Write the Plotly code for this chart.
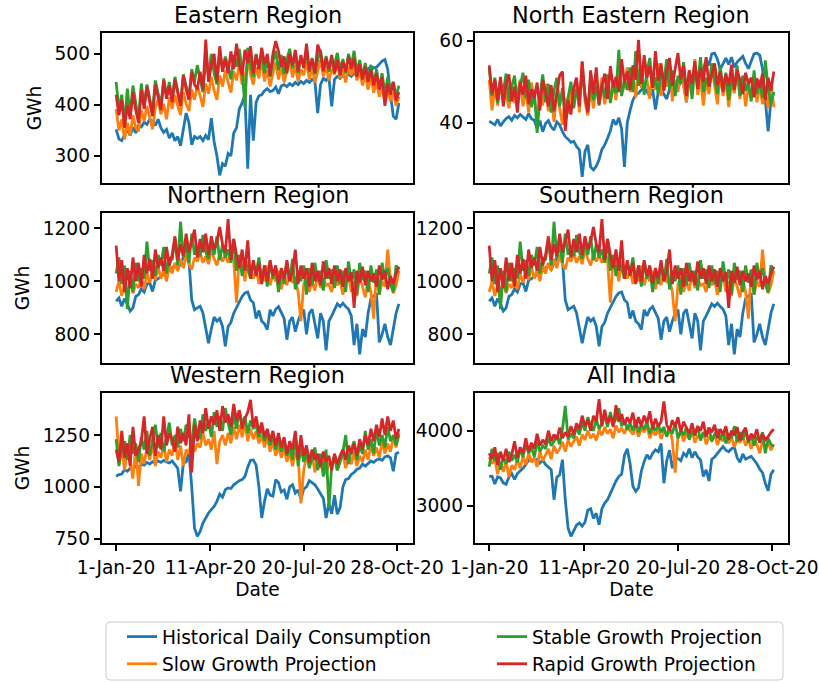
import plotly.graph_objects as go
import pandas as pd

start_date = "2020-01-01"
step_days = 3
series_names = ["Historical Daily Consumption", "Slow Growth Projection",
                "Stable Growth Projection", "Rapid Growth Projection"]
colors = ["#1f77b4", "#ff7f0e", "#2ca02c", "#d62728"]
legend_ids = ["legend", "legend", "legend2", "legend2"]
x_tick_dates = ["2020-01-01", "2020-04-11", "2020-07-20", "2020-10-28"]
x_tick_text = ["1-Jan-20", "11-Apr-20", "20-Jul-20", "28-Oct-20"]

# ---------------- Eastern Region ----------------
east_hist = [
    352, 333, 330, 340, 352, 340, 356, 345, 360, 357,
    366, 362, 372, 368, 360, 372, 355, 346, 352, 335,
    345, 330, 338, 320, 350, 384, 365, 322, 338, 334,
    338, 330, 340, 332, 374, 328, 300, 262, 285, 280,
    305, 300, 345, 355, 392, 404, 420, 275, 420, 330,
    405, 418, 420, 428, 432, 426, 428, 435, 422, 437,
    440, 436, 442, 438, 444, 440, 446, 442, 448, 444,
    450, 446, 384, 440, 452, 448, 455, 397, 450, 456,
    452, 458, 455, 460, 456, 462, 458, 460, 465, 462,
    470, 476, 472, 474, 480, 486, 489, 470, 420, 378,
    372, 404]
east_slow = [
    392, 350, 372, 332, 365, 340, 380, 355, 348, 390,
    368, 398, 375, 352, 395, 410, 382, 402, 372, 415,
    392, 420, 398, 380, 425, 402, 388, 430, 410, 438,
    418, 396, 442, 422, 455, 428, 410, 458, 436, 468,
    444, 424, 466, 448, 480, 440, 455, 486, 460, 440,
    474, 452, 490, 446, 468, 436, 462, 484, 450, 476,
    444, 468, 490, 454, 478, 446, 470, 458, 486, 450,
    472, 444, 466, 488, 456, 476, 448, 470, 460, 484,
    452, 468, 444, 476, 458, 480, 448, 466, 438, 460,
    430, 454, 424, 446, 416, 438, 404, 430, 408, 424,
    398, 416]
east_stable = [
    445, 390, 420, 362, 432, 378, 438, 400, 370, 442,
    398, 440, 412, 385, 448, 425, 398, 452, 418, 445,
    410, 455, 428, 400, 460, 438, 415, 470, 445, 478,
    450, 425, 488, 458, 500, 462, 440, 505, 470, 495,
    472, 450, 498, 475, 510, 468, 395, 512, 478, 455,
    500, 470, 508, 462, 490, 455, 485, 506, 468, 498,
    460, 490, 510, 472, 500, 462, 494, 478, 505, 465,
    492, 460, 488, 508, 470, 496, 465, 490, 478, 502,
    468, 490, 462, 500, 476, 506, 462, 488, 455, 482,
    450, 478, 440, 470, 432, 462, 420, 455, 428, 445,
    415, 438]
east_rapid = [
    420, 380, 410, 355, 400, 372, 425, 390, 365, 430,
    392, 436, 405, 378, 440, 418, 390, 448, 412, 438,
    405, 450, 420, 398, 458, 430, 410, 465, 440, 430,
    465, 430, 528, 445, 478, 500, 445, 515, 465, 490,
    462, 505, 470, 520, 478, 458, 508, 482, 515, 462,
    498, 470, 512, 480, 500, 458, 500, 525, 505, 475,
    495, 462, 500, 478, 508, 466, 498, 472, 520, 468,
    490, 462, 518, 502, 466, 492, 470, 498, 462, 488,
    458, 485, 466, 495, 470, 492, 455, 480, 450, 475,
    445, 470, 438, 462, 430, 455, 398, 442, 420, 445,
    408, 425]

# ---------------- North Eastern Region ----------------
ne_hist = [
    40.4, 40.0, 39.5, 40.8, 39.2, 40.2, 41.0, 41.5, 40.6, 41.8,
    41.2, 42.0, 41.4, 40.8, 42.2, 41.0, 40.6, 38.6, 40.5, 37.8,
    39.8, 40.5, 39.0, 38.2, 40.2, 39.5, 37.8, 36.6, 36.0, 35.2,
    35.5, 34.2, 33.4, 26.8, 33.0, 34.6, 29.2, 28.5, 29.4, 31.0,
    33.5, 34.6, 36.2, 38.0, 40.8, 39.5, 41.2, 38.5, 29.2, 40.0,
    43.0, 45.5, 46.8, 47.2, 48.0, 48.4, 47.6, 46.5, 48.2, 43.2,
    47.5, 48.0, 47.0, 45.8, 48.2, 47.5, 49.0, 48.5, 50.0, 49.5,
    45.0, 50.5, 51.2, 50.8, 52.0, 51.5, 53.0, 55.4, 54.0, 56.8,
    57.0, 55.5, 53.0, 54.5, 55.8, 54.2, 56.0, 53.5, 54.8, 55.5,
    56.2, 54.5, 53.2, 55.0, 56.8, 57.0, 56.5, 53.2, 44.8, 37.9,
    45.6, 47.3]
ne_slow = [
    50.5, 43.0, 48.5, 44.2, 50.2, 45.0, 47.5, 43.5, 49.0, 44.8,
    47.2, 50.5, 44.0, 48.2, 42.5, 49.8, 45.5, 41.8, 47.0, 44.2,
    49.5, 42.8, 46.5, 40.2, 47.8, 43.5, 39.5, 46.0, 42.2, 48.5,
    44.0, 50.5, 42.5, 54.8, 45.2, 41.8, 48.0, 43.5, 49.2, 45.8,
    51.0, 44.5, 48.8, 46.0, 50.2, 45.5, 52.0, 47.2, 49.0, 53.5,
    47.5, 51.8, 46.2, 53.0, 48.5, 55.2, 49.8, 45.8, 52.5, 48.0,
    54.5, 46.5, 51.5, 48.8, 55.0, 45.2, 50.5, 47.5, 53.2, 49.0,
    45.0, 52.8, 48.2, 55.5, 46.8, 51.0, 44.2, 50.2, 47.0, 53.8,
    48.5, 44.5, 52.0, 46.5, 50.8, 43.8, 49.5, 47.2, 53.0, 45.8,
    50.2, 44.0, 48.8, 46.2, 51.5, 45.0, 49.0, 44.5, 47.8, 43.5,
    50.0, 43.8]
ne_stable = [
    53.5, 46.5, 51.0, 44.8, 49.5, 47.5, 52.0, 45.2, 48.8, 51.5,
    44.5, 49.0, 52.2, 46.0, 50.5, 43.8, 48.0, 37.5, 46.5, 51.8,
    45.0, 49.5, 42.5, 47.8, 51.0, 44.0, 48.5, 41.5, 46.2, 50.0,
    43.5, 48.2, 45.0, 52.5, 47.0, 43.0, 50.2, 45.5, 48.8, 44.2,
    49.5, 46.0, 51.8, 44.8, 49.0, 47.2, 57.8, 46.5, 50.5, 48.0,
    53.5, 47.5, 57.5, 49.0, 54.0, 46.8, 52.5, 55.8, 48.5, 51.0,
    47.0, 53.2, 50.0, 55.5, 48.2, 52.8, 46.5, 51.5, 49.5, 54.8,
    48.0, 52.0, 45.8, 53.5, 49.2, 56.0, 47.5, 51.0, 48.8, 54.5,
    50.5, 47.0, 53.8, 48.5, 52.2, 45.5, 51.8, 48.0, 54.0, 46.5,
    51.5, 47.8, 50.0, 45.2, 52.8, 47.0, 50.5, 46.0, 55.2, 48.5,
    44.5, 47.5]
ne_rapid = [
    54.0, 47.0, 50.5, 45.5, 51.2, 44.0, 49.5, 51.8, 45.2, 48.8,
    42.5, 50.0, 46.8, 51.5, 44.5, 48.2, 46.0, 49.8, 43.0, 50.5,
    47.5, 44.0, 49.2, 42.8, 47.0, 51.5, 52.5, 38.0, 45.5, 42.0,
    48.5, 51.0, 44.0, 55.0, 46.5, 42.5, 52.8, 47.0, 53.5, 44.5,
    49.0, 52.0, 45.8, 53.8, 48.5, 51.2, 47.5, 55.5, 49.8, 52.5,
    48.0, 54.0, 50.5, 60.2, 49.5, 56.5, 51.0, 53.8, 48.5, 57.5,
    50.2, 54.5, 47.8, 52.5, 55.8, 49.0, 53.2, 57.0, 50.5, 54.0,
    46.5, 52.8, 49.5, 55.0, 48.2, 53.5, 50.0, 56.0, 48.8, 52.0,
    54.5, 49.2, 52.5, 47.5, 51.8, 49.0, 54.2, 48.0, 52.8, 50.5,
    47.0, 52.2, 49.5, 51.0, 46.2, 50.8, 48.5, 52.0, 45.5, 51.0,
    47.8, 52.5]

# ---------------- Northern Region ----------------
north_hist = [
    925, 937, 906, 935, 915, 888, 900, 943, 950, 972,
    960, 990, 995, 962, 1005, 1010, 1020, 1025, 1035, 1040,
    1050, 1060, 1045, 1070, 1090, 1157, 1080, 930, 893, 900,
    906, 881, 830, 767, 820, 865, 850, 860, 830, 755,
    830, 845, 880, 900, 920, 943, 956, 960, 930, 920,
    860, 890, 850, 840, 818, 893, 870, 895, 905, 880,
    860, 780, 850, 865, 810, 850, 880, 893, 800, 880,
    895, 840, 785, 880, 850, 740, 850, 870, 890, 915,
    905, 918, 905, 895, 870, 760, 840, 725, 820, 790,
    880, 935, 945, 955, 770, 800, 840, 790, 760, 815,
    880, 915]
north_slow = [
    960, 1000, 945, 985, 930, 1010, 955, 990, 975, 1015,
    970, 1030, 995, 1040, 1005, 1055, 1010, 1045, 1000, 1060,
    1030, 1070, 1040, 1085, 1050, 1100, 1065, 1045, 1090, 1075,
    1110, 1070, 1095, 1065, 1120, 1085, 1060, 1105, 1075, 1100,
    1070, 1110, 1080, 920, 1095, 1060, 1000, 1075, 1040, 1010,
    1050, 990, 1035, 1000, 1060, 985, 1025, 1000, 1040, 970,
    1020, 985, 1045, 995, 1010, 960, 850, 990, 1015, 960,
    1000, 965, 1030, 975, 1010, 985, 990, 960, 1020, 985,
    1005, 950, 995, 1025, 960, 1000, 945, 1015, 980, 940,
    1010, 960, 860, 1040, 950, 1000, 980, 1120, 1000, 955,
    985, 1040]
north_stable = [
    1030, 1090, 990, 1060, 895, 1040, 960, 1070, 1000, 1050,
    1010, 1150, 1040, 1080, 1020, 1100, 1060, 1130, 1030, 1090,
    1080, 1160, 1060, 1225, 1090, 1140, 1070, 1180, 1100, 1130,
    1095, 1175, 1110, 1085, 1150, 1100, 1170, 1080, 1140, 1090,
    1120, 1070, 1160, 1040, 1100, 1020, 1080, 1050, 1010, 1070,
    1030, 1090, 1000, 1060, 980, 1075, 1010, 1050, 960, 1040,
    990, 1070, 1000, 1085, 970, 1040, 1000, 1060, 950, 1050,
    985, 1070, 1000, 1040, 965, 1080, 1010, 1045, 975, 1060,
    990, 1040, 960, 1075, 1000, 1045, 950, 1070, 1005, 1040,
    960, 1060, 995, 1045, 950, 1070, 1010, 1050, 990, 960,
    1060, 1045]
north_rapid = [
    1135, 1000, 1080, 960, 1050, 975, 1090, 1000, 1070, 980,
    1100, 1030, 1085, 1010, 1120, 1050, 1090, 1040, 1130, 1060,
    1100, 1170, 1080, 1140, 1095, 1180, 1110, 1150, 1195, 1090,
    1160, 1110, 1180, 1100, 1170, 1120, 1150, 1205, 1140, 1110,
    1235, 1080, 1160, 1100, 1050, 1120, 1040, 1155, 1010, 1080,
    1020, 1070, 990, 1060, 1000, 1080, 1020, 1060, 990, 1050,
    1010, 1080, 1000, 1040, 1120, 990, 1060, 1010, 1050, 980,
    1070, 1000, 1040, 985, 1075, 1010, 1050, 990, 1060, 1000,
    1045, 980, 1050, 1000, 1035, 900, 1040, 995, 1055, 985,
    1040, 1000, 1030, 980, 1060, 1005, 1040, 970, 1020, 990,
    1030, 1055]

# ---------------- Southern Region (identical to Northern in the source) ----------------
south_hist = north_hist
south_slow = north_slow
south_stable = north_stable
south_rapid = north_rapid

# ---------------- Western Region ----------------
west_hist = [
    1051, 1059, 1062, 1083, 1075, 1090, 1085, 1100, 1095, 1110,
    1105, 1118, 1110, 1122, 1115, 1125, 1118, 1128, 1120, 1115,
    1125, 1110, 1090, 978, 1115, 1120, 1165, 1000, 800, 761,
    785, 825, 850, 874, 890, 906, 930, 965, 950, 986,
    995, 992, 1010, 1020, 1030, 1035, 1050, 1095, 1128, 1130,
    1105, 1000, 850, 930, 990, 960, 955, 1035, 1020, 975,
    985, 940, 1000, 1010, 970, 985, 940, 990, 1000, 1030,
    1020, 1010, 990, 965, 945, 850, 920, 870, 960, 868,
    900, 1000, 1035, 1040, 1060, 1070, 1085, 1090, 1110, 1100,
    1115, 1125, 1118, 1130, 1135, 1128, 1145, 1150, 1140, 1075,
    1160, 1167]
west_slow = [
    1340, 1150, 1200, 1080, 1180, 1120, 1040, 1200, 1005, 1160,
    1110, 1190, 1130, 1220, 1100, 1170, 1140, 1210, 1120, 1180,
    1150, 1230, 1130, 1200, 1100, 1180, 1160, 1240, 1170, 1210,
    1190, 1260, 1200, 1230, 1180, 1270, 1110, 1220, 1250, 1200,
    1260, 1210, 1290, 1230, 1300, 1240, 1310, 1220, 1280, 1230,
    1270, 1210, 1250, 1190, 1240, 1170, 1220, 1150, 1200, 1140,
    1190, 1120, 1170, 1100, 1160, 1150, 920, 1080, 1150, 1100,
    1160, 1070, 1130, 1090, 1140, 1060, 1120, 1100, 1150, 1080,
    1130, 1160, 1090, 1140, 1110, 1170, 1100, 1150, 1120, 1180,
    1130, 1200, 1150, 1190, 1140, 1220, 1160, 1210, 1170, 1240,
    1190, 1260]
west_stable = [
    1230, 1100, 1180, 1220, 1130, 1250, 1160, 1210, 1120, 1240,
    1180, 1270, 1150, 1230, 1300, 1190, 1260, 1170, 1240, 1310,
    1200, 1250, 1190, 1280, 1220, 1300, 1250, 1210, 1330, 1260,
    1230, 1350, 1270, 1320, 1240, 1360, 1290, 1340, 1270, 1380,
    1310, 1250, 1350, 1280, 1370, 1300, 1340, 1260, 1320, 1280,
    1300, 1240, 1290, 1220, 1270, 1200, 1250, 1180, 1230, 1170,
    1220, 1150, 1200, 1130, 1250, 1100, 1190, 1120, 1170, 1090,
    1140, 1190, 1080, 1160, 1050, 1180, 900, 1100, 1150, 1080,
    1120, 1170, 1250, 1110, 1180, 1220, 1130, 1200, 1160, 1270,
    1180, 1230, 1160, 1280, 1200, 1250, 1190, 1290, 1220, 1250,
    1200, 1250]
west_rapid = [
    1180, 1120, 1270, 1140, 1210, 1100, 1290, 1150, 1180, 1220,
    1340, 1160, 1230, 1290, 1150, 1250, 1180, 1340, 1200, 1260,
    1230, 1170, 1290, 1210, 1260, 1200, 1350, 1070, 1300, 1220,
    1320, 1260, 1380, 1280, 1340, 1300, 1370, 1270, 1390, 1310,
    1350, 1290, 1400, 1320, 1370, 1280, 1330, 1360, 1420, 1290,
    1340, 1260, 1310, 1240, 1280, 1220, 1270, 1200, 1260, 1190,
    1240, 1160, 1220, 1180, 1270, 1130, 1250, 1150, 1200, 1120,
    1180, 1130, 1160, 1100, 1170, 1120, 1150, 1080, 1160, 1110,
    1150, 1180, 1130, 1200, 1160, 1210, 1150, 1230, 1180, 1250,
    1200, 1280, 1220, 1300, 1240, 1330, 1250, 1340, 1270, 1320,
    1230, 1280]

# ---------------- All India ----------------
india_hist = [
    3392, 3395, 3290, 3385, 3370, 3305, 3285, 3380, 3430, 3350,
    3430, 3460, 3500, 3550, 3610, 3600, 3615, 3620, 3570, 3610,
    3550, 3510, 3480, 3080, 3380, 3410, 3614, 3080, 2700, 2592,
    2660, 2740, 2770, 2730, 2780, 2940, 2960, 2830, 2900, 2747,
    2960, 3036, 3080, 3170, 3260, 3330, 3390, 3420, 3670, 3760,
    3560, 3260, 3190, 3240, 3460, 3590, 3680, 3620, 3700, 3745,
    3720, 3830, 3300, 3600, 3740, 3500, 3640, 3630, 3600, 3700,
    3660, 3760, 3640, 3720, 3650, 3610, 3390, 3480, 3330, 3620,
    3650, 3700, 3745, 3790, 3740, 3720, 3760, 3780, 3640, 3580,
    3690, 3620, 3640, 3660, 3610, 3560, 3490, 3440, 3300, 3200,
    3420, 3480]
india_slow = [
    3650, 3560, 3620, 3420, 3580, 3450, 3600, 3380, 3540, 3480,
    3620, 3500, 3660, 3550, 3700, 3580, 3640, 3520, 3720, 3600,
    3680, 3760, 3620, 3800, 3700, 3760, 3850, 3720, 3880, 3790,
    3860, 3920, 3800, 3950, 3880, 4000, 3900, 3960, 3870, 4010,
    3940, 4050, 3960, 4020, 3900, 4070, 3980, 4040, 3960, 4080,
    4000, 3950, 4060, 3920, 4030, 3980, 4070, 3900, 4010, 3940,
    4020, 3890, 3990, 3950, 4040, 3870, 3440, 3920, 3980, 3860,
    3960, 3900, 4010, 3840, 3940, 3890, 3980, 3820, 3920, 3870,
    3950, 3810, 3910, 3860, 3980, 3830, 3920, 3780, 3890, 3840,
    3930, 3800, 3880, 3760, 3900, 3820, 3700, 3860, 3780, 3850,
    3740, 3820]
india_stable = [
    3520, 3760, 3600, 3700, 3480, 3650, 3560, 3720, 3600, 3680,
    3580, 3760, 3650, 3820, 3700, 3780, 3650, 3850, 3720, 3800,
    3760, 3900, 3800, 3860, 3940, 3820, 4020, 4330, 3880, 3960,
    3900, 4050, 3950, 4120, 4000, 4180, 4060, 4000, 4150, 4020,
    4100, 4200, 4050, 4250, 4080, 4160, 4300, 4060, 4140, 4010,
    4100, 4000, 4150, 3980, 4080, 4020, 4120, 3960, 4060, 4000,
    4080, 3980, 4050, 3920, 4020, 3960, 4100, 3900, 4000, 3940,
    4050, 3880, 3990, 3940, 4060, 3870, 3980, 3920, 4040, 3860,
    3950, 4020, 3880, 3990, 3830, 3960, 3900, 4060, 3850, 3980,
    3880, 4000, 3840, 3940, 3800, 3920, 3860, 3980, 3700, 3900,
    3820, 3790]
india_rapid = [
    3700, 3620, 3780, 3540, 3720, 3600, 3760, 3580, 3680, 3860,
    3640, 3780, 3700, 3900, 3720, 3840, 3760, 3960, 3800, 3880,
    3820, 4000, 3860, 3950, 3880, 4040, 3900, 3980, 3920, 4060,
    3950, 4100, 4020, 4200, 4060, 4150, 4000, 4200, 4120, 4420,
    4060, 4280, 4100, 4200, 4050, 4340, 4120, 4220, 4080, 4180,
    4100, 4240, 4040, 4180, 4060, 4200, 4100, 4260, 4020, 4160,
    4060, 4120, 4390, 4080, 4000, 4140, 4050, 4180, 3980, 4120,
    4040, 3960, 4100, 3940, 4060, 4000, 4120, 3920, 4040, 3980,
    4080, 3900, 4020, 3950, 4060, 3880, 4000, 3940, 4050, 3870,
    3980, 4040, 3860, 3960, 3900, 4020, 3840, 3960, 3880, 3920,
    3980, 4020]

panel_titles = ["Eastern Region", "North Eastern Region", "Northern Region",
                "Southern Region", "Western Region", "All India"]
panel_series = [
    [east_hist, east_slow, east_stable, east_rapid],
    [ne_hist, ne_slow, ne_stable, ne_rapid],
    [north_hist, north_slow, north_stable, north_rapid],
    [south_hist, south_slow, south_stable, south_rapid],
    [west_hist, west_slow, west_stable, west_rapid],
    [india_hist, india_slow, india_stable, india_rapid],
]
panel_yticks = [[300, 400, 500], [40, 60], [800, 1000, 1200], [800, 1000, 1200],
                [750, 1000, 1250], [3000, 4000]]
panel_yranges = [[247, 541], [25.3, 61.9], [692, 1258], [692, 1258],
                 [729, 1453], [2503, 4503]]

# ---------------- figure ----------------
FONT = "DejaVu Sans"
TICK_SIZE = 18.6
TITLE_SIZE = 22.3
W, H = 819, 683
ML, MR, MT, MB = 102, 31, 33, 140
PW, PH = W - ML - MR, H - MT - MB


def px_to_paper_x(px):
    return (px - ML) / PW


def px_to_paper_y(py):
    return (H - MB - py) / PH


col_domains = [[0.0, 0.4534], [0.5437, 1.0]]
row_domains = [[0.7059, 1.0], [0.3529, 0.6471], [0.0, 0.2941]]

fig = go.Figure()
annotations = []
layout_axes = {}

for i, series in enumerate(panel_series):
    row, col = divmod(i, 2)
    k = i + 1
    xref = "x" if k == 1 else f"x{k}"
    yref = "y" if k == 1 else f"y{k}"
    n = len(series[0])
    for j, vals in enumerate(series):
        dates = pd.date_range(start_date, periods=len(vals), freq=f"{step_days}D")
        fig.add_trace(go.Scatter(
            x=dates, y=vals, mode="lines",
            line=dict(color=colors[j], width=2.8),
            name=series_names[j], legend=legend_ids[j],
            showlegend=(i == 0), xaxis=xref, yaxis=yref,
        ))
    span = (n - 1) * step_days
    t0 = pd.Timestamp(start_date) - pd.Timedelta(days=0.05 * span)
    t1 = pd.Timestamp(start_date) + pd.Timedelta(days=1.05 * span)
    bottom = row == 2
    layout_axes["xaxis" if k == 1 else f"xaxis{k}"] = dict(
        domain=col_domains[col], anchor=yref, type="date",
        range=[t0.strftime("%Y-%m-%d %H:%M:%S"), t1.strftime("%Y-%m-%d %H:%M:%S")],
        showline=True, mirror=True, linecolor="black", linewidth=1.5,
        showgrid=False, zeroline=False,
        ticks="outside" if bottom else "", ticklen=6.5, tickwidth=1.5, tickcolor="black",
        tickvals=x_tick_dates, ticktext=x_tick_text, showticklabels=bottom,
        tickfont=dict(family=FONT, size=TICK_SIZE, color="black"),
        title=dict(text="Date" if bottom else "", standoff=6,
                   font=dict(family=FONT, size=TICK_SIZE, color="black")),
    )
    layout_axes["yaxis" if k == 1 else f"yaxis{k}"] = dict(
        domain=row_domains[row], anchor=xref,
        range=panel_yranges[i], tickvals=panel_yticks[i],
        showline=True, mirror=True, linecolor="black", linewidth=1.5,
        showgrid=False, zeroline=False,
        ticks="outside", ticklen=6.5, tickwidth=1.5, tickcolor="black",
        tickfont=dict(family=FONT, size=TICK_SIZE, color="black"),
        title=dict(text="GWh" if col == 0 else "", standoff=8,
                   font=dict(family=FONT, size=TICK_SIZE, color="black")),
    )
    annotations.append(dict(
        text=panel_titles[i], xref="paper", yref="paper",
        x=sum(col_domains[col]) / 2, y=row_domains[row][1],
        xanchor="center", yanchor="bottom", yshift=3, showarrow=False,
        font=dict(family=FONT, size=TITLE_SIZE, color="black"),
    ))

# legend frame (rounded rectangle) spanning both legend columns
bx0, bx1 = px_to_paper_x(106), px_to_paper_x(783)
by1, by0 = px_to_paper_y(622), px_to_paper_y(680)
rx, ry = 4 / PW, 4 / PH
frame_path = (
    f"M {bx0 + rx},{by0} L {bx1 - rx},{by0} Q {bx1},{by0} {bx1},{by0 + ry} "
    f"L {bx1},{by1 - ry} Q {bx1},{by1} {bx1 - rx},{by1} "
    f"L {bx0 + rx},{by1} Q {bx0},{by1} {bx0},{by1 - ry} "
    f"L {bx0},{by0 + ry} Q {bx0},{by0} {bx0 + rx},{by0} Z"
)

legend_common = dict(
    orientation="v", yanchor="top", xanchor="left",
    borderwidth=0, bgcolor="rgba(0,0,0,0)",
    font=dict(family=FONT, size=TICK_SIZE, color="black"),
    traceorder="normal",
)

fig.update_layout(
    width=W, height=H,
    margin=dict(l=ML, r=MR, t=MT, b=MB, autoexpand=False),
    paper_bgcolor="white", plot_bgcolor="white",
    font=dict(family=FONT, size=TICK_SIZE, color="black"),
    annotations=annotations,
    shapes=[dict(type="path", path=frame_path, xref="paper", yref="paper",
                 line=dict(color="#cccccc", width=1), fillcolor="white", layer="below")],
    showlegend=True,
    legend=dict(x=px_to_paper_x(122), y=px_to_paper_y(618), **legend_common),
    legend2=dict(x=px_to_paper_x(492), y=px_to_paper_y(618), **legend_common),
    **layout_axes,
)

fig.write_html("out.html")
